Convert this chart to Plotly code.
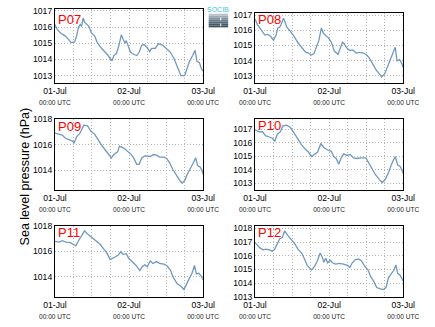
import plotly.graph_objects as go
import pandas as pd

BASE = pd.Timestamp("2013-07-01 00:00")

# hours since 01-Jul 00:00 UTC, sea level pressure (hPa)
p07_h = [0, 0.8, 2.0, 3.4, 4.4, 5.2, 6.4, 7.0, 7.6, 8.2, 8.6, 9.2, 9.6, 10.2, 11.0, 11.8, 12.9, 13.7, 15.3, 16.9, 18.5, 19.1, 19.9, 20.7, 21.5, 22.1, 22.7, 23.1, 23.7, 24.5, 25.5, 26.5, 27.3, 28.1, 28.9, 29.9, 30.7, 31.3, 32.5, 33.5, 34.9, 36.2, 37.4, 38.6, 39.8, 40.8, 42.0, 42.6, 43.6, 44.6, 45.4, 46.0, 46.8, 47.4, 48.0]
p07_v = [1016.16, 1015.84, 1015.60, 1015.44, 1015.24, 1015.04, 1015.08, 1015.44, 1015.96, 1016.16, 1016.04, 1016.56, 1016.30, 1016.16, 1016.04, 1015.64, 1015.44, 1015.04, 1014.64, 1014.32, 1013.92, 1014.24, 1014.36, 1014.84, 1015.52, 1015.24, 1015.00, 1015.16, 1014.84, 1014.44, 1014.32, 1014.24, 1014.44, 1014.88, 1014.92, 1014.72, 1014.48, 1014.68, 1014.68, 1014.96, 1014.88, 1014.68, 1014.44, 1014.04, 1013.52, 1013.00, 1013.00, 1013.32, 1013.88, 1014.24, 1014.56, 1013.88, 1013.80, 1013.44, 1013.28]

p08_h = [0, 0.8, 2.0, 3.2, 4.2, 5.0, 6.0, 6.8, 7.4, 8.0, 8.6, 9.2, 9.6, 10.2, 11.4, 12.5, 13.9, 15.3, 16.3, 17.3, 18.3, 19.1, 19.9, 20.7, 21.5, 22.1, 22.9, 23.7, 24.7, 25.7, 26.9, 27.5, 28.3, 28.9, 29.7, 30.7, 31.7, 32.7, 33.9, 35.1, 36.2, 37.2, 38.2, 39.2, 40.4, 41.0, 42.0, 42.8, 43.8, 44.6, 45.4, 46.0, 46.8, 47.4, 48.0]
p08_v = [1016.74, 1016.36, 1016.02, 1015.68, 1015.72, 1015.60, 1015.34, 1015.68, 1016.15, 1016.19, 1016.45, 1016.79, 1016.62, 1016.23, 1015.94, 1015.64, 1015.17, 1014.79, 1014.57, 1014.49, 1014.36, 1014.45, 1014.96, 1015.34, 1016.15, 1015.81, 1015.64, 1015.51, 1015.21, 1014.62, 1014.40, 1014.74, 1015.21, 1015.09, 1014.83, 1014.66, 1014.70, 1014.49, 1014.53, 1014.49, 1014.36, 1014.11, 1013.77, 1013.38, 1013.09, 1012.91, 1013.13, 1013.51, 1014.02, 1014.45, 1014.87, 1013.98, 1014.06, 1013.85, 1013.55]

p09_h = [0, 1.4, 2.4, 3.4, 4.6, 5.6, 6.2, 7.0, 8.0, 8.6, 9.4, 10.6, 11.6, 12.9, 13.9, 14.9, 16.3, 17.3, 18.3, 19.1, 20.3, 20.9, 21.5, 22.3, 23.3, 24.5, 25.5, 26.5, 27.3, 28.1, 29.1, 29.9, 30.9, 31.9, 32.9, 33.9, 35.3, 36.2, 37.2, 38.2, 39.2, 40.2, 41.2, 42.0, 42.8, 43.8, 44.8, 45.6, 46.2, 47.0, 47.6, 48.0]
p09_v = [1016.92, 1016.82, 1016.77, 1016.51, 1016.41, 1016.31, 1016.15, 1016.62, 1016.87, 1017.13, 1017.54, 1017.49, 1017.08, 1016.82, 1016.41, 1016.05, 1015.59, 1015.23, 1014.97, 1015.23, 1015.44, 1015.90, 1015.85, 1015.74, 1015.54, 1015.28, 1014.97, 1014.46, 1014.46, 1014.97, 1015.13, 1015.13, 1015.08, 1015.23, 1015.18, 1015.03, 1015.03, 1014.92, 1014.56, 1014.05, 1013.64, 1013.28, 1012.97, 1013.18, 1013.64, 1014.05, 1014.56, 1014.97, 1014.36, 1014.26, 1014.00, 1013.69]

p10_h = [0, 1.4, 2.4, 3.4, 4.6, 5.6, 6.4, 7.2, 8.2, 9.0, 10.2, 11.4, 12.5, 13.7, 15.1, 16.3, 17.3, 18.3, 19.3, 20.3, 21.3, 22.3, 23.5, 24.7, 25.5, 26.3, 27.1, 27.9, 28.7, 29.7, 30.9, 31.9, 32.9, 34.3, 35.9, 36.8, 38.0, 39.0, 40.2, 41.2, 42.2, 43.2, 44.2, 45.4, 46.2, 47.0, 48.0]
p10_v = [1016.95, 1016.81, 1016.81, 1016.52, 1016.42, 1016.33, 1016.13, 1016.61, 1016.81, 1017.24, 1017.29, 1017.14, 1016.76, 1016.33, 1015.84, 1015.51, 1015.31, 1014.98, 1015.17, 1015.31, 1015.94, 1015.65, 1015.46, 1015.36, 1014.98, 1014.83, 1014.40, 1014.88, 1015.17, 1015.07, 1015.12, 1014.88, 1014.83, 1014.88, 1014.88, 1014.49, 1014.01, 1013.63, 1013.29, 1013.05, 1013.29, 1013.77, 1014.40, 1014.98, 1014.35, 1014.25, 1013.72]

p11_h = [0, 1.4, 2.4, 3.6, 5.0, 6.2, 6.8, 7.4, 8.4, 9.0, 9.6, 10.4, 11.4, 12.5, 13.5, 14.7, 15.7, 16.7, 17.9, 18.5, 19.5, 20.5, 21.3, 22.1, 23.1, 23.9, 25.1, 26.3, 27.5, 28.3, 29.1, 29.9, 30.9, 31.7, 32.9, 33.9, 35.3, 36.2, 37.4, 38.4, 39.6, 40.8, 41.8, 42.6, 43.4, 44.4, 45.2, 45.8, 46.6, 47.2, 48.0]
p11_v = [1016.81, 1016.75, 1016.86, 1016.75, 1016.70, 1016.55, 1016.44, 1016.75, 1017.17, 1017.48, 1017.64, 1017.43, 1017.22, 1017.06, 1016.81, 1016.55, 1016.23, 1015.92, 1015.35, 1015.45, 1015.56, 1015.71, 1015.97, 1015.77, 1015.82, 1015.45, 1015.19, 1014.88, 1014.47, 1014.78, 1014.94, 1014.78, 1015.25, 1015.04, 1015.19, 1015.04, 1014.99, 1014.88, 1014.52, 1013.90, 1013.43, 1013.22, 1012.96, 1013.32, 1013.79, 1014.26, 1014.88, 1014.21, 1014.26, 1014.10, 1013.74]

p12_h = [0, 0.8, 1.6, 2.6, 3.6, 4.6, 5.6, 6.4, 7.2, 8.0, 8.8, 9.6, 10.6, 11.8, 12.9, 13.9, 15.1, 15.9, 16.9, 18.3, 19.3, 20.1, 21.1, 21.9, 22.3, 22.9, 23.5, 24.3, 25.1, 26.1, 27.3, 28.7, 29.9, 30.7, 31.5, 32.5, 33.5, 34.5, 35.5, 36.6, 37.4, 38.4, 39.4, 40.6, 41.6, 42.4, 43.2, 44.2, 45.0, 45.6, 46.2, 47.0, 48.0]
p12_v = [1016.95, 1016.76, 1016.57, 1016.43, 1016.48, 1016.43, 1016.33, 1016.48, 1016.90, 1017.24, 1017.33, 1017.81, 1017.48, 1017.14, 1016.86, 1016.48, 1016.19, 1015.81, 1015.29, 1014.95, 1015.24, 1015.57, 1016.19, 1015.81, 1015.52, 1015.81, 1015.48, 1015.67, 1015.48, 1015.38, 1015.43, 1015.38, 1015.29, 1015.14, 1015.48, 1015.71, 1015.76, 1015.62, 1015.24, 1014.95, 1014.48, 1014.14, 1013.67, 1013.57, 1013.52, 1013.67, 1014.38, 1014.71, 1014.95, 1015.33, 1014.71, 1014.57, 1014.14]

names = ["P07", "P08", "P09", "P10", "P11", "P12"]
hours = [p07_h, p08_h, p09_h, p10_h, p11_h, p12_h]
values = [p07_v, p08_v, p09_v, p10_v, p11_v, p12_v]
y_ranges = [[1012.56, 1017.12], [1012.53, 1017.15], [1012.46, 1018.05],
            [1012.52, 1017.77], [1012.39, 1018.05], [1013.0, 1018.19]]
y_dticks = [1, 1, 2, 1, 2, 1]
y_label = "Sea level pressure (hPa)"
x_tick_hours = [0, 6, 12, 18, 24, 30, 36, 42, 48]
x_tick_days = {0: "01-Jul", 24: "02-Jul", 48: "03-Jul"}
x_tick_sub = "00:00 UTC"

W, H = 435, 327
# panel boxes in pixels (left, right, top, bottom)
boxes = [(42, 202, 5, 81), (258, 418, 9, 81),
         (42, 202, 118, 191), (258, 418, 118, 191),
         (42, 202, 228, 301), (258, 418, 228, 301)]
label_y = [15.5, 15.7, 125.5, 125, 235, 235]

fig = go.Figure()
tickvals = [BASE + pd.Timedelta(hours=h) for h in x_tick_hours]
ticktext = []
for h in x_tick_hours:
    if h in x_tick_days:
        ticktext.append(x_tick_days[h] + "<br><span style='font-size:6.6px;color:#222'>" + x_tick_sub + "</span>")
    else:
        ticktext.append("")

annotations = []
for i, (nm, hh, vv) in enumerate(zip(names, hours, values)):
    k = "" if i == 0 else str(i + 1)
    l, r, t, b = boxes[i]
    xs = [BASE + pd.Timedelta(hours=h) for h in hh]
    fig.add_trace(go.Scatter(x=xs, y=vv, mode="lines", name=nm,
                             line=dict(color="#7099bf", width=1.3),
                             xaxis="x" + k, yaxis="y" + k, showlegend=False))
    common = dict(showline=True, linecolor="black", linewidth=1, mirror=True,
                  showgrid=True, gridcolor="#b4b4b4", griddash="1px,2px", gridwidth=1,
                  zeroline=False, tickfont=dict(size=8.6, color="black",
                                                family="Liberation Sans, Arial, sans-serif"))
    fig.layout["xaxis" + k] = dict(common, type="date", domain=[l / W, r / W],
                                   anchor="y" + k,
                                   range=[BASE, BASE + pd.Timedelta(hours=48)],
                                   tickmode="array", tickvals=tickvals, ticktext=ticktext,
                                   ticks="", tickangle=0)
    fig.layout["yaxis" + k] = dict(common, domain=[1 - b / H, 1 - t / H],
                                   anchor="x" + k, range=y_ranges[i],
                                   dtick=y_dticks[i], tick0=1012, ticks="")
    annotations.append(dict(text=nm, xref="paper", yref="paper",
                            x=(l + 1) / W, y=1 - label_y[i] / H,
                            xanchor="left", yanchor="middle", showarrow=False,
                            font=dict(size=13, color="#ff0000",
                                      family="Liberation Sans, Arial, sans-serif")))

annotations.append(dict(text=y_label, xref="paper", yref="paper",
                        x=10 / W, y=1 - 177 / H, textangle=-90,
                        xanchor="center", yanchor="middle", showarrow=False,
                        font=dict(size=12.5, color="black",
                                  family="Liberation Sans, Arial, sans-serif")))
annotations.append(dict(text="SOCIB", xref="paper", yref="paper",
                        x=218.5 / W, y=1 - 6 / H, xanchor="center", yanchor="middle",
                        showarrow=False,
                        font=dict(size=7, color="#3fbfd8",
                                  family="Liberation Sans, Arial, sans-serif")))

shapes = []
grad = ["#b8c4cb", "#9aaab3", "#7f919c", "#687b87", "#566a77", "#465a68", "#3a4e5c"]
y0 = 10
for j, c in enumerate(grad):
    shapes.append(dict(type="rect", xref="paper", yref="paper",
                       x0=208 / W, x1=229 / W,
                       y0=1 - (y0 + 2 * (j + 1)) / H, y1=1 - (y0 + 2 * j) / H,
                       fillcolor=c, line=dict(width=0), layer="above"))
shapes.append(dict(type="line", xref="paper", yref="paper",
                   x0=221 / W, x1=221 / W, y0=1 - 23 / H, y1=1 - 11 / H,
                   line=dict(color="white", width=1, dash="dot"), layer="above"))

fig.update_layout(width=W, height=H, margin=dict(l=0, r=0, t=0, b=0),
                  paper_bgcolor="white", plot_bgcolor="white",
                  annotations=annotations, shapes=shapes,
                  font=dict(family="Liberation Sans, Arial, sans-serif"))
fig.write_html("out.html")
